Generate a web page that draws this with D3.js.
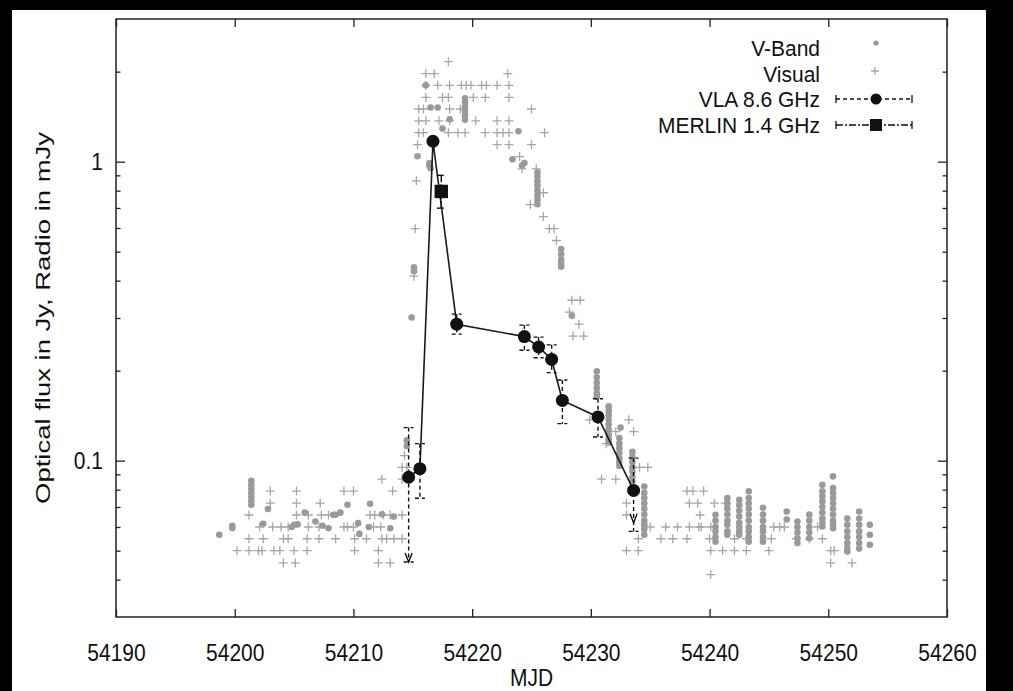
<!DOCTYPE html>
<html>
<head>
<meta charset="utf-8">
<script src="https://cdn.jsdelivr.net/npm/d3@7"></script>
<style>
    body { margin: 0; background: #000; }
    text { font-family: "Liberation Sans", Arial, sans-serif; fill: #111; }
</style>
</head>
<body>
<svg id="chart" width="1013" height="691"></svg>
<script>
// tick values
const xTicks = [54190, 54200, 54210, 54220, 54230, 54240, 54250, 54260];
const yMajorTicks = [0.1, 1];
const yMajorLabels = ["0.1", "1"];
const yMinorTicks = [0.04, 0.05, 0.06, 0.07, 0.08, 0.09, 0.2, 0.3, 0.4, 0.5, 0.6, 0.7, 0.8, 0.9, 2];

// legend entries
const legendNames = ["V-Band", "Visual", "VLA 8.6 GHz", "MERLIN 1.4 GHz"];

// V-Band photometry [MJD, Jy]
const vbandPoints = [
    [54198.7, 0.0565], [54199.8, 0.0606], [54199.8, 0.0595],
    [54201.4, 0.0857], [54201.4, 0.0831], [54201.4, 0.0805], [54201.4, 0.0781], [54201.4, 0.0757], [54201.4, 0.0734], [54201.4, 0.0712],
    [54202.8, 0.0689], [54202.4, 0.0615], [54205.0, 0.061], [54204.8, 0.060], [54205.3, 0.0612], [54205.9, 0.067],
    [54206.8, 0.0626], [54207.4, 0.0606], [54207.9, 0.0594], [54208.3, 0.0659], [54208.5, 0.0659], [54208.9, 0.067],
    [54209.5, 0.0712], [54210.4, 0.0618], [54210.5, 0.0569], [54211.4, 0.0718], [54211.3, 0.060], [54212.4, 0.0662],
    [54213.1, 0.0594], [54213.4, 0.065], [54214.5, 0.117], [54214.5, 0.112],
    [54214.9, 0.301], [54215.1, 0.443], [54215.1, 0.43], [54215.4, 1.042], [54216.4, 0.99], [54216.4, 0.97], [54216.5, 0.95],
    [54216.1, 1.80], [54216.5, 1.517], [54217.1, 1.517], [54217.5, 1.29], [54218.1, 1.387],
    [54219.4, 1.63], [54219.4, 1.58], [54219.4, 1.53], [54219.4, 1.48], [54219.4, 1.43], [54219.4, 1.38],
    [54223.9, 1.264], [54223.4, 1.018], [54224.4, 0.99], [54224.2, 0.97],
    [54225.5, 0.92], [54225.5, 0.89], [54225.5, 0.86], [54225.5, 0.83], [54225.5, 0.80], [54225.5, 0.77], [54225.5, 0.745], [54225.5, 0.72],
    [54227.5, 0.51], [54227.5, 0.49], [54227.5, 0.47], [54227.5, 0.455], [54227.5, 0.445],
    [54228.4, 0.305],
    [54230.5, 0.199], [54230.5, 0.19], [54230.5, 0.182], [54230.5, 0.175], [54230.5, 0.168], [54230.5, 0.164],
    [54231.5, 0.152], [54231.5, 0.147], [54231.5, 0.142], [54231.5, 0.137], [54231.5, 0.132], [54231.5, 0.127], [54231.5, 0.122], [54231.5, 0.118], [54231.5, 0.115],
    [54232.5, 0.129],
    [54232.4, 0.119], [54232.4, 0.114], [54232.4, 0.110], [54232.4, 0.106], [54232.4, 0.102], [54232.4, 0.099], [54232.4, 0.096],
    [54233.5, 0.107], [54233.5, 0.103], [54233.5, 0.099], [54233.5, 0.095], [54233.5, 0.092], [54233.5, 0.088], [54233.5, 0.085],
    [54234.5, 0.082], [54234.5, 0.078], [54234.5, 0.075], [54234.5, 0.072], [54234.5, 0.069], [54234.5, 0.066], [54234.5, 0.063], [54234.5, 0.061], [54234.5, 0.059], [54234.5, 0.0565],
    [54240.5, 0.0659], [54240.5, 0.063], [54240.5, 0.060], [54240.5, 0.058], [54240.5, 0.0555], [54240.5, 0.0536],
    [54241.5, 0.075], [54241.5, 0.072], [54241.5, 0.069], [54241.5, 0.066], [54241.5, 0.063], [54241.5, 0.061], [54241.5, 0.058], [54241.5, 0.0565],
    [54242.5, 0.074], [54242.5, 0.071], [54242.5, 0.068], [54242.5, 0.065], [54242.5, 0.062], [54242.5, 0.060], [54242.5, 0.058], [54242.5, 0.0565],
    [54243.3, 0.079], [54243.3, 0.075], [54243.3, 0.072], [54243.3, 0.069], [54243.3, 0.066], [54243.3, 0.063], [54243.3, 0.060], [54243.3, 0.058], [54243.3, 0.0555], [54243.3, 0.0536],
    [54244.5, 0.0696], [54244.5, 0.066], [54244.5, 0.063], [54244.5, 0.060], [54244.5, 0.058], [54244.5, 0.0555], [54244.5, 0.0536],
    [54246.5, 0.0676], [54246.5, 0.0636],
    [54247.4, 0.0626], [54247.4, 0.060], [54247.4, 0.0575], [54247.4, 0.055], [54247.4, 0.053],
    [54248.4, 0.066], [54248.4, 0.063], [54248.4, 0.060], [54248.4, 0.0575], [54248.4, 0.055],
    [54249.5, 0.083], [54249.5, 0.079], [54249.5, 0.076], [54249.5, 0.073], [54249.5, 0.070], [54249.5, 0.067], [54249.5, 0.064], [54249.5, 0.062], [54249.5, 0.0602],
    [54250.4, 0.0886], [54250.4, 0.081], [54250.4, 0.078], [54250.4, 0.075], [54250.4, 0.072], [54250.4, 0.069], [54250.4, 0.066], [54250.4, 0.063], [54250.4, 0.061], [54250.4, 0.0594],
    [54251.6, 0.064], [54251.6, 0.061], [54251.6, 0.058], [54251.6, 0.0555], [54251.6, 0.053], [54251.6, 0.051], [54251.6, 0.0497],
    [54252.6, 0.0676], [54252.6, 0.064], [54252.6, 0.061], [54252.6, 0.058], [54252.6, 0.0555], [54252.6, 0.053], [54252.6, 0.0508],
    [54253.5, 0.061], [54253.5, 0.0565], [54253.5, 0.0523]
];

// visual estimates [MJD, Jy]
const visualPoints = [
    [54200.2, 0.050], [54201.2, 0.050], [54202.0, 0.050], [54202.3, 0.050], [54203.3, 0.050], [54203.8, 0.050], [54205.0, 0.050], [54206.1, 0.050], [54210.1, 0.050], [54212.1, 0.050],
    [54204.1, 0.0455], [54205.1, 0.0455], [54212.1, 0.0455], [54213.1, 0.0455],
    [54201.2, 0.0548], [54202.4, 0.0548], [54204.1, 0.0548], [54204.5, 0.0548], [54206.1, 0.0548], [54207.1, 0.0548], [54208.5, 0.0548],
    [54210.1, 0.0548], [54211.1, 0.0548], [54212.4, 0.0548], [54212.8, 0.0548], [54213.4, 0.0548], [54214.1, 0.0548],
    [54202.1, 0.060], [54203.2, 0.060], [54203.9, 0.060], [54204.5, 0.060], [54206.2, 0.060], [54207.1, 0.060], [54209.2, 0.060],
    [54209.5, 0.060], [54210.0, 0.060], [54211.7, 0.060], [54212.3, 0.060],
    [54201.2, 0.0658], [54205.2, 0.0658], [54206.2, 0.0658], [54207.3, 0.0658], [54207.9, 0.0658], [54211.4, 0.0658], [54211.8, 0.0658],
    [54212.5, 0.0658], [54213.1, 0.0658], [54214.1, 0.0658],
    [54203.0, 0.0721], [54205.2, 0.0721], [54207.2, 0.0721],
    [54203.0, 0.0791], [54205.2, 0.0791], [54209.2, 0.0791], [54210.0, 0.0791], [54213.3, 0.0791],
    [54212.4, 0.0867], [54214.1, 0.0867], [54214.1, 0.095], [54214.5, 0.095], [54214.3, 0.104],
    [54215.1, 0.414], [54215.2, 0.597], [54215.3, 0.863],
    [54215.4, 1.14], [54222.1, 1.14], [54223.1, 1.14], [54225.0, 1.14],
    [54215.5, 1.25], [54215.9, 1.25], [54218.0, 1.25], [54218.8, 1.25], [54219.4, 1.25], [54221.1, 1.25], [54222.1, 1.25], [54222.6, 1.25], [54223.1, 1.25], [54226.1, 1.25],
    [54215.5, 1.37], [54216.1, 1.37], [54217.2, 1.37], [54218.1, 1.37], [54220.3, 1.37], [54222.1, 1.37], [54223.1, 1.37],
    [54215.5, 1.50], [54215.9, 1.50], [54218.1, 1.50], [54219.0, 1.50], [54225.0, 1.50],
    [54216.1, 1.64], [54217.5, 1.64], [54218.0, 1.64], [54220.1, 1.64], [54221.1, 1.64], [54223.1, 1.64],
    [54216.1, 1.80], [54217.1, 1.80], [54218.1, 1.80], [54219.1, 1.80], [54219.5, 1.80], [54219.9, 1.80], [54220.8, 1.80], [54221.2, 1.80], [54222.1, 1.80], [54223.1, 1.80],
    [54216.1, 1.97], [54216.8, 1.97], [54223.0, 1.97],
    [54218.0, 2.16],
    [54224.0, 1.04], [54224.2, 0.946], [54225.4, 0.946], [54226.0, 0.787], [54224.9, 0.718], [54226.0, 0.655], [54226.5, 0.597], [54226.9, 0.597], [54227.1, 0.545],
    [54228.4, 0.344], [54229.1, 0.344], [54228.2, 0.314], [54229.0, 0.286], [54228.5, 0.261], [54229.4, 0.261],
    [54229.9, 0.137], [54233.2, 0.137], [54233.6, 0.125], [54232.1, 0.125], [54231.3, 0.114],
    [54230.9, 0.0867], [54232.1, 0.0867], [54234.1, 0.095], [54234.8, 0.095],
    [54233.0, 0.0721], [54233.0, 0.0658], [54234.0, 0.0548], [54233.0, 0.050], [54234.0, 0.050], [54235.0, 0.060],
    [54238.1, 0.0791], [54238.6, 0.0791], [54239.5, 0.0791],
    [54238.3, 0.0721], [54239.0, 0.0721], [54240.4, 0.0721], [54241.3, 0.0721],
    [54239.2, 0.0658],
    [54236.3, 0.060], [54237.3, 0.060], [54238.3, 0.060], [54239.1, 0.060], [54239.3, 0.060], [54240.1, 0.060], [54245.4, 0.060], [54245.9, 0.060], [54246.3, 0.060], [54249.1, 0.060],
    [54235.9, 0.0548], [54236.9, 0.0548], [54238.1, 0.0548], [54240.0, 0.0548], [54242.1, 0.0548], [54243.1, 0.0548], [54245.2, 0.0548], [54247.3, 0.0548], [54248.4, 0.0548], [54249.5, 0.0548],
    [54240.1, 0.050], [54241.1, 0.050], [54242.1, 0.050], [54243.1, 0.050], [54245.0, 0.050], [54250.2, 0.050], [54250.5, 0.050],
    [54250.2, 0.0455], [54252.0, 0.0455],
    [54240.1, 0.0416]
];

// VLA 8.6 GHz (mJy)
const vlaMJD     = [54214.65, 54215.6, 54216.7, 54218.7, 54224.4, 54225.6, 54226.7, 54227.6, 54230.6, 54233.6];
const vlaFlux    = [0.088, 0.094, 1.17, 0.286, 0.260, 0.240, 0.218, 0.159, 0.140, 0.0795];
const vlaHigh    = [0.129, 0.114, 1.19, 0.309, 0.284, 0.259, 0.244, 0.186, 0.161, 0.102];
const vlaLow     = [0.0458, 0.0749, 1.15, 0.265, 0.234, 0.221, 0.197, 0.133, 0.120, 0.058];
const vlaArrowTo = [0.0458, null, null, null, null, null, null, null, null, 0.062];

// MERLIN 1.4 GHz (mJy)
const merlinMJD  = [54217.4];
const merlinFlux = [0.795];
const merlinHigh = [0.900];
const merlinLow  = [0.699];

// text in the reference is drawn a little taller than it is wide
const TALL = 1.18;
const TALL_KEY = 1.05;

//producing chart frame
const myFrame = (function () {

    const box = {left: 116, right: 947, top: 19, bottom: 617};

    function Produce(svgId) {
        const svg = d3.select(svgId);
        svg.append("rect").attr("x", 12).attr("y", 10).attr("width", 974).attr("height", 681).attr("fill", "#fff");
        return svg;
    }

    // Exposed public
    return {
        box: box,
        produce: Produce
    }
})();

const svg = myFrame.produce("#chart");
const box = myFrame.box;

const x = d3.scaleLinear().domain([54190, 54260]).range([box.left, box.right]);
const y = d3.scaleLog().domain([0.03, 3]).range([box.bottom, box.top]);

/*Helper function*/
function tallText(g, px, py, anchor, str, stretch) {
    return g.append("text")
        .attr("transform", "translate(" + px + "," + py + ") scale(1," + stretch + ")")
        .attr("dy", "0.35em")
        .attr("text-anchor", anchor).attr("font-size", 21)
        .text(str);
}

//adding axes
const myAxes = (function () {

    function clean(g) {
        g.select(".domain").remove();
        g.selectAll(".tick line").attr("stroke", "#222").attr("stroke-width", 1.3);
        g.selectAll(".tick text").attr("font-size", 21).attr("fill", "#111")
            .attr("transform", "scale(1," + TALL + ")");
        return g;
    }

    function add() {
        svg.append("g").attr("transform", "translate(0," + box.bottom + ")")
            .call(d3.axisBottom(x).tickValues(xTicks).tickFormat(d3.format("d")).tickSize(-8).tickPadding(22.5))
            .call(clean);
        svg.append("g").attr("transform", "translate(0," + box.top + ")")
            .call(d3.axisTop(x).tickValues(xTicks).tickFormat("").tickSize(-8))
            .call(clean);

        svg.append("g").attr("transform", "translate(" + box.left + ",0)")
            .call(d3.axisLeft(y).tickValues(yMajorTicks).tickFormat((d, i) => yMajorLabels[i]).tickSize(-9).tickPadding(13))
            .call(clean);
        svg.append("g").attr("transform", "translate(" + box.left + ",0)")
            .call(d3.axisLeft(y).tickValues(yMinorTicks).tickFormat("").tickSize(-4.5))
            .call(clean);
        svg.append("g").attr("transform", "translate(" + box.right + ",0)")
            .call(d3.axisRight(y).tickValues(yMajorTicks).tickFormat("").tickSize(-9))
            .call(clean);
        svg.append("g").attr("transform", "translate(" + box.right + ",0)")
            .call(d3.axisRight(y).tickValues(yMinorTicks).tickFormat("").tickSize(-4.5))
            .call(clean);

        svg.append("rect")
            .attr("x", box.left).attr("y", box.top)
            .attr("width", box.right - box.left).attr("height", box.bottom - box.top)
            .attr("fill", "none").attr("stroke", "#222").attr("stroke-width", 1.5);

        tallText(svg, (box.left + box.right) / 2, 677, "middle", "MJD", TALL);

        svg.append("text")
            .attr("transform", "translate(43,318) rotate(-90)")
            .attr("dy", "0.35em")
            .attr("text-anchor", "middle").attr("font-size", 21)
            .attr("textLength", 372).attr("lengthAdjust", "spacingAndGlyphs")
            .text("Optical flux in Jy, Radio in mJy");
    }

    // Exposed public
    return {
        add: add
    }
})();

//adding glyphs
const myGlyphs = (function () {

    const grey = "#9a9a9a";

    function cross(g, cx, cy, s) {
        g.append("path")
            .attr("d", "M" + (cx - s) + "," + cy + "H" + (cx + s) + "M" + cx + "," + (cy - s) + "V" + (cy + s))
            .attr("stroke", "#a6a6a6").attr("stroke-width", 1.3).attr("fill", "none");
    }

    function errorBar(g, cx, yHigh, yLow, dash, cap) {
        g.append("line").attr("x1", cx).attr("x2", cx).attr("y1", yHigh).attr("y2", yLow)
            .attr("stroke", "#111").attr("stroke-width", 1.4).attr("stroke-dasharray", dash);
        [yHigh, yLow].forEach(function (yy) {
            g.append("line").attr("x1", cx - cap).attr("x2", cx + cap).attr("y1", yy).attr("y2", yy)
                .attr("stroke", "#111").attr("stroke-width", 1.4).attr("stroke-dasharray", dash);
        });
    }

    function addVisual() {
        const g = svg.append("g");
        visualPoints.forEach(function (d) {
            cross(g, x(d[0]), y(d[1]), 4.5);
        });
    }

    function addVband() {
        svg.append("g").selectAll("circle")
            .data(vbandPoints)
            .enter().append("circle")
            .attr("cx", d => x(d[0]))
            .attr("cy", d => y(d[1]))
            .attr("r", 3.3)
            .attr("fill", grey);
    }

    function addRadio() {
        const g = svg.append("g");

        // joining line through the VLA points
        const line = d3.line().x((d, i) => x(vlaMJD[i])).y(d => y(d));
        g.append("path").attr("d", line(vlaFlux))
            .attr("fill", "none").attr("stroke", "#1a1a1a").attr("stroke-width", 1.6);

        vlaMJD.forEach(function (m, i) {
            errorBar(g, x(m), y(vlaHigh[i]), y(vlaLow[i]), "4,3", 5);
            if (vlaArrowTo[i] !== null) {
                const ax = x(m), ay = y(vlaArrowTo[i]);
                g.append("path")
                    .attr("d", "M" + (ax - 3.5) + "," + (ay - 9) + "L" + ax + "," + ay + "L" + (ax + 3.5) + "," + (ay - 9))
                    .attr("fill", "none").attr("stroke", "#111").attr("stroke-width", 1.4);
            }
        });
        merlinMJD.forEach(function (m, i) {
            errorBar(g, x(m), y(merlinHigh[i]), y(merlinLow[i]), "7,2,2,2", 4.5);
        });

        g.selectAll(".vla")
            .data(vlaFlux)
            .enter().append("circle")
            .attr("class", "vla")
            .attr("cx", (d, i) => x(vlaMJD[i]))
            .attr("cy", d => y(d))
            .attr("r", 6.5)
            .attr("fill", "#111");

        g.selectAll(".merlin")
            .data(merlinFlux)
            .enter().append("rect")
            .attr("class", "merlin")
            .attr("x", (d, i) => x(merlinMJD[i]) - 6.7)
            .attr("y", d => y(d) - 6.7)
            .attr("width", 13.4).attr("height", 13.4)
            .attr("fill", "#111");
    }

    function addLegend() {
        const g = svg.append("g");
        const rows = [48, 74, 99, 125];
        legendNames.forEach(function (name, i) {
            tallText(g, 820, rows[i], "end", name, TALL_KEY);
        });
        g.append("circle").attr("cx", 876).attr("cy", 43).attr("r", 2.6).attr("fill", grey);
        cross(g, 875, 71, 4);

        [[rows[2], "4,3"], [rows[3], "7,2,2,2"]].forEach(function (r) {
            g.append("line").attr("x1", 836).attr("x2", 912).attr("y1", r[0]).attr("y2", r[0])
                .attr("stroke", "#111").attr("stroke-width", 1.3).attr("stroke-dasharray", r[1]);
            [836, 912].forEach(function (ex) {
                g.append("line").attr("x1", ex).attr("x2", ex).attr("y1", r[0] - 4).attr("y2", r[0] + 4)
                    .attr("stroke", "#111").attr("stroke-width", 1.3);
            });
        });
        g.append("circle").attr("cx", 876).attr("cy", rows[2]).attr("r", 5.5).attr("fill", "#111");
        g.append("rect").attr("x", 870).attr("y", rows[3] - 6).attr("width", 12).attr("height", 12).attr("fill", "#111");
    }

    // Exposed public
    return {
        addVisual: addVisual,
        addVband: addVband,
        addRadio: addRadio,
        addLegend: addLegend
    }
})();

myAxes.add();
myGlyphs.addVisual();
myGlyphs.addVband();
myGlyphs.addRadio();
myGlyphs.addLegend();
</script>
</body>
</html>
